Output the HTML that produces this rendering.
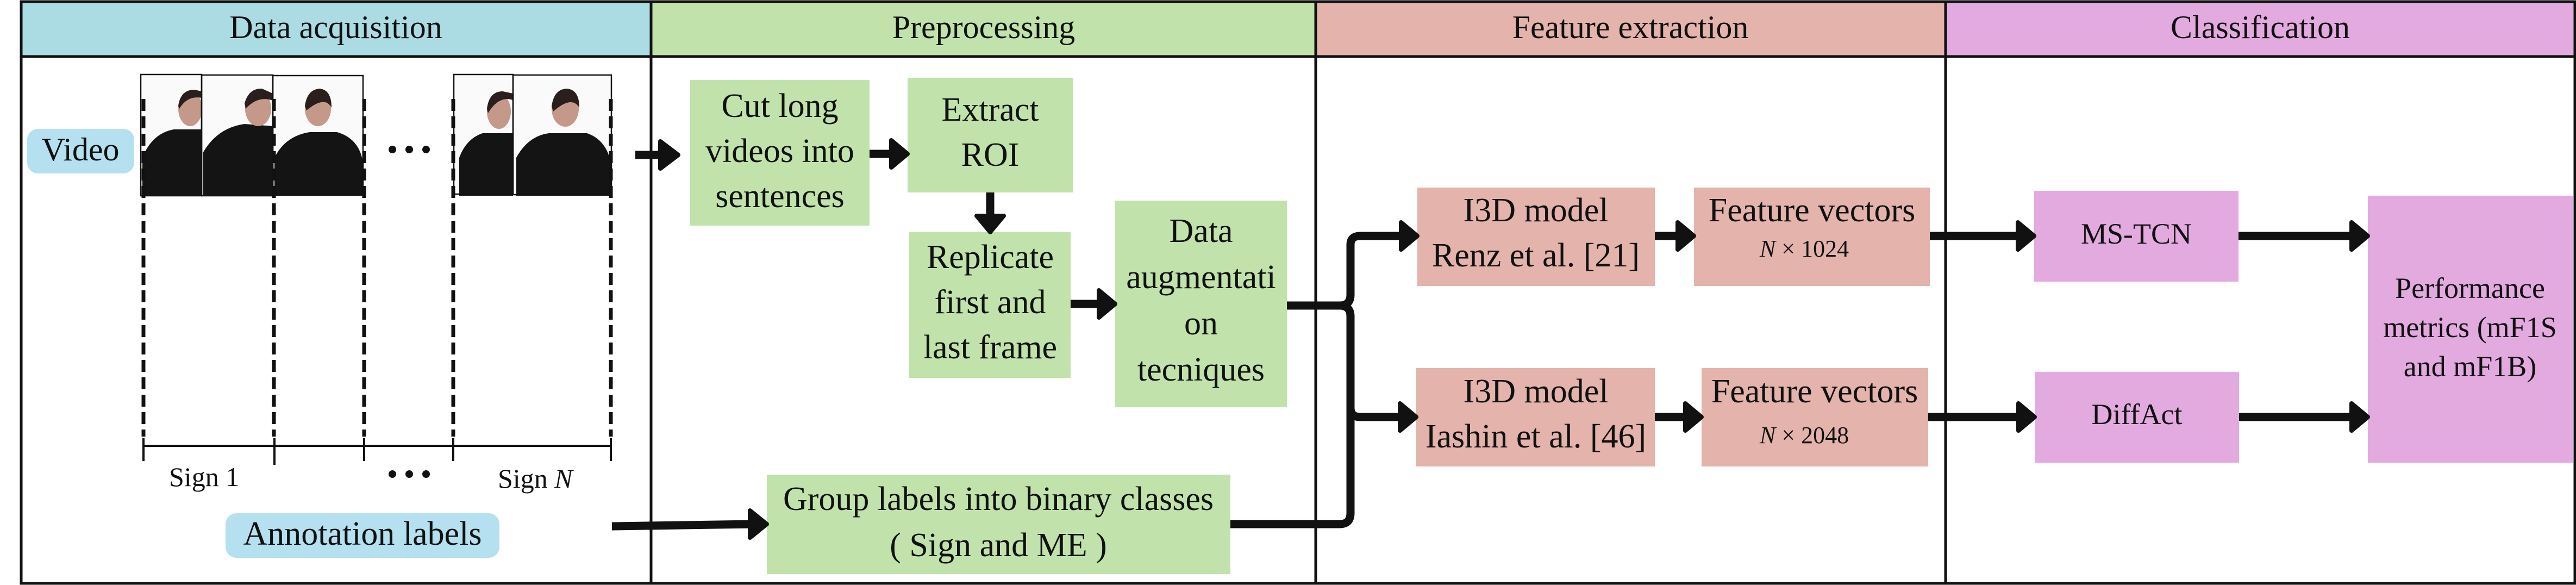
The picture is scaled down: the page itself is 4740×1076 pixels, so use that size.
<!DOCTYPE html>
<html><head><meta charset="utf-8"><style>
html,body{margin:0;padding:0;background:#fff;}
svg{display:block;}
svg text{font-family:"Liberation Serif","DejaVu Serif",serif;fill:#111;}
</style></head><body>
<svg width="4740" height="1076" viewBox="0 0 4740 1076" xmlns="http://www.w3.org/2000/svg" font-family="'Liberation Serif', 'DejaVu Serif', serif">
<defs>
<clipPath id="c1"><rect x="259" y="137" width="112" height="223"/></clipPath>
<clipPath id="c2"><rect x="371" y="137" width="131" height="223"/></clipPath>
<clipPath id="c3"><rect x="502" y="137" width="166" height="223"/></clipPath>
<clipPath id="c4"><rect x="835" y="137" width="109" height="223"/></clipPath>
<clipPath id="c5"><rect x="944" y="137" width="181" height="223"/></clipPath>
</defs>
<rect x="39" y="3" width="1159" height="101" fill="#abdbe3"/>
<rect x="1198" y="3" width="1223" height="101" fill="#c1e3ab"/>
<rect x="2421" y="3" width="1159" height="101" fill="#e3b3ac"/>
<rect x="3580" y="3" width="1158" height="101" fill="#e3aae0"/>
<g stroke="#111" stroke-width="5" fill="none">
<rect x="39" y="3" width="4699" height="1070"/>
<line x1="39" y1="104" x2="4738" y2="104"/>
<line x1="1198" y1="3" x2="1198" y2="1073"/>
<line x1="2421" y1="3" x2="2421" y2="1073"/>
<line x1="3580" y1="3" x2="3580" y2="1073"/>
</g>
<g font-size="60" text-anchor="middle">
<text x="618" y="70">Data acquisition</text>
<text x="1810" y="70">Preprocessing</text>
<text x="3000" y="70">Feature extraction</text>
<text x="4159" y="70">Classification</text>
</g>

<g id="frames">
<g clip-path="url(#c1)"><rect x="259" y="137" width="112" height="223" fill="#fafafa"/>
<path d="M262 360 L262 290 Q280 245 320 238 L371 238 L371 360Z" fill="#141414"/>
<ellipse cx="350" cy="200" rx="22" ry="32" fill="#c4998a"/><path d="M328 195 Q332 165 358 165 L371 168 L371 180 Q345 175 330 200Z" fill="#2a1f1c"/></g>
<g clip-path="url(#c2)"><rect x="371" y="137" width="131" height="223" fill="#fafafa"/>
<path d="M374 360 L374 280 Q400 235 450 228 L502 232 L502 360Z" fill="#141414"/>
<ellipse cx="475" cy="200" rx="24" ry="32" fill="#c4998a"/><path d="M450 190 Q458 162 482 163 L502 172 L502 185 Q475 175 452 200Z" fill="#2a1f1c"/></g>
<g clip-path="url(#c3)"><rect x="502" y="137" width="166" height="223" fill="#fafafa"/>
<path d="M505 360 L505 290 Q525 250 570 243 L620 243 Q662 255 668 300 L668 360Z" fill="#141414"/>
<ellipse cx="585" cy="200" rx="24" ry="32" fill="#c4998a"/><path d="M561 195 Q565 165 588 163 Q610 165 610 198 Q598 175 564 203Z" fill="#2a1f1c"/></g>
<g clip-path="url(#c4)"><rect x="835" y="137" width="109" height="223" fill="#fafafa"/>
<path d="M845 360 L845 290 Q858 255 888 245 L944 245 L944 360Z" fill="#141414"/>
<ellipse cx="918" cy="205" rx="22" ry="32" fill="#c4998a"/><path d="M896 200 Q900 168 925 168 L944 172 L944 184 Q918 175 898 208Z" fill="#2a1f1c"/></g>
<g clip-path="url(#c5)"><rect x="944" y="137" width="181" height="223" fill="#fafafa"/>
<path d="M950 360 L950 290 Q972 250 1010 245 L1080 245 Q1118 258 1125 305 L1125 360Z" fill="#141414"/>
<ellipse cx="1040" cy="200" rx="25" ry="33" fill="#c4998a"/><path d="M1015 196 Q1019 164 1043 163 Q1066 165 1066 198 Q1052 175 1018 205Z" fill="#2a1f1c"/></g>
<g stroke="#111" stroke-width="2.5" fill="none">
<rect x="259" y="137" width="112" height="223"/>
<rect x="371" y="138" width="131" height="222"/>
<rect x="502" y="139" width="166" height="220"/>
<rect x="835" y="137" width="109" height="220"/>
<rect x="944" y="138" width="181" height="220"/>
</g>
</g>
<g stroke="#111" stroke-width="7" stroke-dasharray="22,10">
<line x1="264" y1="182" x2="264" y2="803"/>
<line x1="504" y1="182" x2="504" y2="803"/>
<line x1="670" y1="182" x2="670" y2="803"/>
<line x1="834" y1="182" x2="834" y2="803"/>
<line x1="1124" y1="182" x2="1124" y2="803"/>
</g>
<g stroke="#111" stroke-width="4">
<line x1="264" y1="820" x2="1124" y2="820"/>
<line x1="264" y1="806" x2="264" y2="848"/>
<line x1="505" y1="806" x2="505" y2="855"/>
<line x1="670" y1="806" x2="670" y2="848"/>
<line x1="834" y1="806" x2="834" y2="848"/>
<line x1="1124" y1="806" x2="1124" y2="848"/>
</g>
<g fill="#111">
<circle cx="722" cy="275" r="7"/><circle cx="753" cy="275" r="7"/><circle cx="784" cy="275" r="7"/>
<circle cx="722" cy="872" r="7"/><circle cx="753" cy="872" r="7"/><circle cx="784" cy="872" r="7"/>
</g>
<text x="311" y="894" font-size="50">Sign  1</text>
<text x="916" y="897" font-size="50">Sign <tspan font-style="italic">N</tspan></text>

<rect x="50" y="237" width="197" height="82" rx="20" fill="#b5e0f0"/>
<text x="148" y="295" font-size="60" text-anchor="middle">Video</text>
<rect x="415" y="944" width="504" height="82" rx="20" fill="#b5e0f0"/>
<text x="667" y="1002" font-size="62" text-anchor="middle">Annotation labels</text>

<g fill="#c1e3ab">
<rect x="1270" y="147" width="330" height="268"/>
<rect x="1670" y="143" width="304" height="211"/>
<rect x="1673" y="427" width="297" height="268"/>
<rect x="2052" y="369" width="316" height="380"/>
<rect x="1411" y="873" width="853" height="183"/>
</g>
<g fill="#e3b3ac">
<rect x="2608" y="345" width="437" height="181"/>
<rect x="3117" y="345" width="434" height="181"/>
<rect x="2606" y="677" width="439" height="181"/>
<rect x="3131" y="677" width="417" height="181"/>
</g>
<g fill="#e3aae0">
<rect x="3743" y="351" width="376" height="167"/>
<rect x="3744" y="684" width="376" height="167"/>
<rect x="4357" y="360" width="377" height="491"/>
</g>
<g font-size="62" text-anchor="middle">
<text x="1435" y="215">Cut long</text>
<text x="1435" y="298">videos into</text>
<text x="1435" y="381">sentences</text>
<text x="1822" y="222">Extract</text>
<text x="1822" y="305">ROI</text>
<text x="1822" y="493">Replicate</text>
<text x="1822" y="576">first and</text>
<text x="1822" y="659">last frame</text>
<text x="2210" y="445">Data</text>
<text x="2210" y="530">augmentati</text>
<text x="2210" y="615">on</text>
<text x="2210" y="700">tecniques</text>
<text x="1837" y="938">Group labels into binary classes</text>
<text x="1837" y="1023">( Sign and ME )</text>
<text x="2826" y="407">I3D model</text>
<text x="2826" y="490">Renz et al. [21]</text>
<text x="3334" y="407">Feature vectors</text>
<text x="2826" y="740">I3D model</text>
<text x="2826" y="823">Iashin et al. [46]</text>
<text x="3339" y="740">Feature vectors</text>
</g>
<g font-size="44" text-anchor="middle">
<text x="3320" y="472"><tspan font-style="italic">N</tspan> × 1024</text>
<text x="3320" y="815"><tspan font-style="italic">N</tspan> × 2048</text>
</g>
<g font-size="54" text-anchor="middle">
<text x="3931" y="448">MS-TCN</text>
<text x="3932" y="780">DiffAct</text>
<text x="4545" y="548">Performance</text>
<text x="4545" y="620">metrics (mF1S</text>
<text x="4545" y="692">and mF1B)</text>
</g>

<g stroke="#111" stroke-width="15" fill="none" stroke-linejoin="round">
<line x1="1169" y1="285" x2="1222" y2="285"/>
<line x1="1600" y1="283" x2="1645" y2="283"/>
<line x1="1822" y1="354" x2="1822" y2="402"/>
<line x1="1970" y1="559" x2="2027" y2="559"/>
<path d="M1126 968 L1386 964"/>
<path d="M2368 562 L2465 562 Q2485 562 2485 542 L2485 450 Q2485 434 2503 434 L2583 434"/>
<path d="M2465 562 Q2485 562 2485 582 L2485 750 Q2485 767 2503 767 L2581 767"/>
<path d="M2264 964 L2465 964 Q2485 964 2485 944 L2485 600"/>
<line x1="3045" y1="434" x2="3092" y2="434"/>
<line x1="3045" y1="767" x2="3106" y2="767"/>
<line x1="3551" y1="434" x2="3718" y2="434"/>
<line x1="3548" y1="767" x2="3719" y2="767"/>
<line x1="4119" y1="434" x2="4332" y2="434"/>
<line x1="4120" y1="767" x2="4332" y2="767"/>
</g>
<g fill="#111" stroke="#111" stroke-width="8" stroke-linejoin="round">
<polygon points="1215,260 1248,285 1215,310"/>
<polygon points="1640,258 1670,283 1640,308"/>
<polygon points="1797,397 1822,427 1847,397"/>
<polygon points="2022,534 2052,559 2022,584"/>
<polygon points="1380,939 1411,964 1380,989"/>
<polygon points="2578,409 2608,434 2578,459"/>
<polygon points="2576,742 2606,767 2576,792"/>
<polygon points="3087,409 3117,434 3087,459"/>
<polygon points="3101,742 3131,767 3101,792"/>
<polygon points="3713,409 3743,434 3713,459"/>
<polygon points="3714,742 3744,767 3714,792"/>
<polygon points="4327,409 4357,434 4327,459"/>
<polygon points="4327,742 4357,767 4327,792"/>
</g>
</svg>
</body></html>
